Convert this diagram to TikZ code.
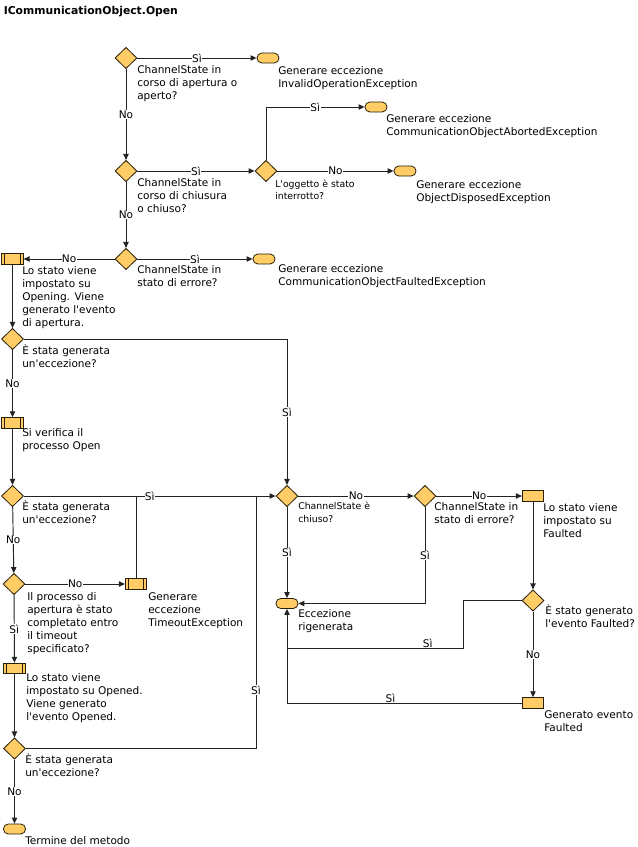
\documentclass[tikz,border=0pt]{standalone}
\usepackage{fontspec}
\setmainfont{DejaVu Sans}
\usetikzlibrary{shapes.geometric,arrows.meta,calc}
\definecolor{boxfill}{RGB}{255,204,102}
\definecolor{boxline}{RGB}{40,30,10}
\definecolor{wire}{RGB}{35,35,35}
\begin{document}
\begin{tikzpicture}[x=0.75pt,y=-0.75pt,
  dia/.style={diamond,draw=boxline,fill=boxfill,minimum width=16.5pt,minimum height=16pt,inner sep=0pt,line width=0.6pt},
  term/.style={rectangle,rounded corners=3.6pt,draw=boxline,fill=boxfill,minimum width=16.5pt,minimum height=7.5pt,inner sep=0pt,line width=0.6pt},
  proc/.style={rectangle,draw=boxline,fill=boxfill,minimum width=16pt,minimum height=8pt,inner sep=0pt,line width=0.6pt,
    path picture={\draw[boxline,line width=0.6pt]
      ([xshift=2pt]path picture bounding box.north west) -- ([xshift=2pt]path picture bounding box.south west)
      ([xshift=-2.3pt]path picture bounding box.north east) -- ([xshift=-2.3pt]path picture bounding box.south east);}},
  rbox/.style={rectangle,draw=boxline,fill=boxfill,minimum width=16pt,minimum height=8pt,inner sep=0pt,line width=0.6pt},
  lbl/.style={anchor=north west,inner sep=0pt,align=left,font=\fontsize{7.9}{9.75}\selectfont,execute at begin node=\rule{0pt}{8pt}},
  slbl/.style={lbl,font=\fontsize{7}{9.2}\selectfont},
  elab/.style={fill=white,inner sep=0.3pt,font=\fontsize{7.9}{9.45}\selectfont},
  conn/.style={draw=wire,line width=0.7pt},
  arr/.style={conn,-{Triangle[length=4.5pt,width=4pt]}}]
\useasboundingbox (0,0) rectangle (637,847);

\node[anchor=base west,inner sep=0pt,font=\bfseries\fontsize{8.1}{10}\selectfont] (title) at (3.5,14) {ICommunicationObject.Open};

% shapes
\node[dia] (d1) at (126,58) {};
\node[term] (t1) at (268,58) {};
\node[dia] (d2) at (126,171) {};
\node[dia] (d3) at (266,171) {};
\node[term] (t2) at (376,107) {};
\node[term] (t3) at (405,171) {};
\node[dia] (d4) at (126,259) {};
\node[term] (t4) at (264,259) {};
\node[proc] (p1) at (12.5,259) {};
\node[dia] (d5) at (12.5,339) {};
\node[proc] (p2) at (12.5,423) {};
\node[dia] (d6) at (12.5,496) {};
\node[dia] (d8) at (14,584) {};
\node[proc] (p3) at (136,584) {};
\node[proc] (p4) at (14.5,668.5) {};
\node[dia] (d9) at (14.5,748.5) {};
\node[term] (t5) at (14.5,829) {};
\node[dia] (d7) at (287,496) {};
\node[dia] (d10) at (425,496) {};
\node[rbox] (r1) at (533,496) {};
\node[term] (t6) at (287,603.5) {};
\node[dia] (d11) at (533,600.5) {};
\node[rbox] (r2) at (533,703) {};

% labels
\node[lbl] (ld1) at (137,65.5) {ChannelState in\\corso di apertura o\\aperto?};
\node[lbl] (lt1) at (278,66.5) {Generare eccezione\\InvalidOperationException};
\node[lbl] (ld2) at (137,178.3) {ChannelState in\\corso di chiusura\\o chiuso?};
\node[slbl] (ld3) at (275,179.3) {L\textquotesingle oggetto è stato\\interrotto?};
\node[lbl] (lt2) at (386,114) {Generare eccezione\\CommunicationObjectAbortedException};
\node[lbl] (lt3) at (416,180.3) {Generare eccezione\\ObjectDisposedException};
\node[lbl] (ld4) at (137,265) {ChannelState in\\stato di errore?};
\node[lbl] (lt4) at (278,264.5) {Generare eccezione\\CommunicationObjectFaultedException};
\node[lbl] (lp1) at (22,266) {Lo stato viene\\impostato su\\Opening. Viene\\generato l\textquotesingle evento\\di apertura.};
\node[lbl] (ld5) at (22,344.5) {È stata generata\\un\textquotesingle eccezione?};
\node[lbl] (lp2) at (22,428.5) {Si verifica il\\processo Open};
\node[lbl] (ld6) at (22,500.5) {È stata generata\\un\textquotesingle eccezione?};
\node[lbl] (ld8) at (27,592) {Il processo di\\apertura è stato\\completato entro\\il timeout\\specificato?};
\node[lbl] (lp3) at (148,592) {Generare\\eccezione\\TimeoutException};
\node[lbl] (lp4) at (26,673) {Lo stato viene\\impostato su Opened.\\Viene generato\\l\textquotesingle evento Opened.};
\node[lbl] (ld9) at (25,753.5) {È stata generata\\un\textquotesingle eccezione?};
\node[lbl] (lt5) at (25,833.5) {Termine del metodo};
\node[slbl] (ld7) at (298,502) {ChannelState è\\chiuso?};
\node[lbl] (ld10) at (434,502) {ChannelState in\\stato di errore?};
\node[lbl] (lr1) at (543,503.5) {Lo stato viene\\impostato su\\Faulted};
\node[lbl] (lt6) at (298,609) {Eccezione\\rigenerata};
\node[lbl] (ld11) at (545,604) {È stato generato\\l\textquotesingle evento Faulted?};
\node[lbl] (lr2) at (544,710) {Generato evento\\Faulted};

% junction coordinates
\coordinate (j2) at (256,496);
\coordinate (k1) at (463,648);

% connectors
\draw[arr] (d1) -- node[elab] (e1) {Sì} (t1);
\draw[arr] (d1) -- node[elab] (e2) {No} (d2);
\draw[arr] (d2) -- node[elab] (e3) {Sì} (d3);
\draw[arr] (d3.north) |- node[elab,pos=0.75] (e4) {Sì} (t2);
\draw[arr] (d3) -- node[elab] (e5) {No} (t3);
\draw[arr] (d2) -- node[elab] (e6) {No} (d4);
\draw[arr] (d4) -- node[elab] (e7) {Sì} (t4);
\draw[arr] (d4) -- node[elab] (e8) {No} (p1);
\draw[arr] (p1) -- (d5);
\draw[arr] (d5.east) -| node[elab,pos=0.75] (e9) {Sì} (d7.north);
\draw[arr] (d5) -- node[elab] (e10) {No} (p2);
\draw[arr] (p2) -- (d6);
\draw[arr] (d6) -- node[elab] (e11) {Sì} (d7);
\draw[conn] (p3.north) -- (p3.north |- d6);
\draw[conn] (d9.east) -| node[elab,pos=0.616] (e12) {Sì} (j2);
\draw[arr] (d6) -- node[elab] (e13) {No} (d8);
\draw[arr] (d8) -- node[elab] (e14) {No} (p3);
\draw[arr] (d8) -- node[elab] (e15) {Sì} (p4);
\draw[arr] (p4) -- (d9);
\draw[arr] (d9) -- node[elab] (e16) {No} (t5);
\draw[arr] (d7) -- node[elab] (e17) {No} (d10);
\draw[arr] (d10) -- node[elab] (e18) {No} (r1);
\draw[arr] (d7) -- node[elab] (e19) {Sì} (t6);
\draw[arr] (d10.south) |- node[elab,pos=0.25] (e20) {Sì} (t6.east);
\draw[arr] (r1) -- (d11);
\draw[arr] (d11.west) -| (k1) -- node[elab,anchor=south,inner sep=0.2pt,pos=0.2] (e21) {Sì} (k1 -| t6) -- (t6.south);
\draw[arr] (d11) -- node[elab] (e22) {No} (r2);
\draw[conn] (r2.west) -- node[elab,anchor=south,inner sep=0.2pt,pos=0.56] (e23) {Sì} (r2.west -| t6) -- (k1 -| t6);
\end{tikzpicture}
\end{document}
